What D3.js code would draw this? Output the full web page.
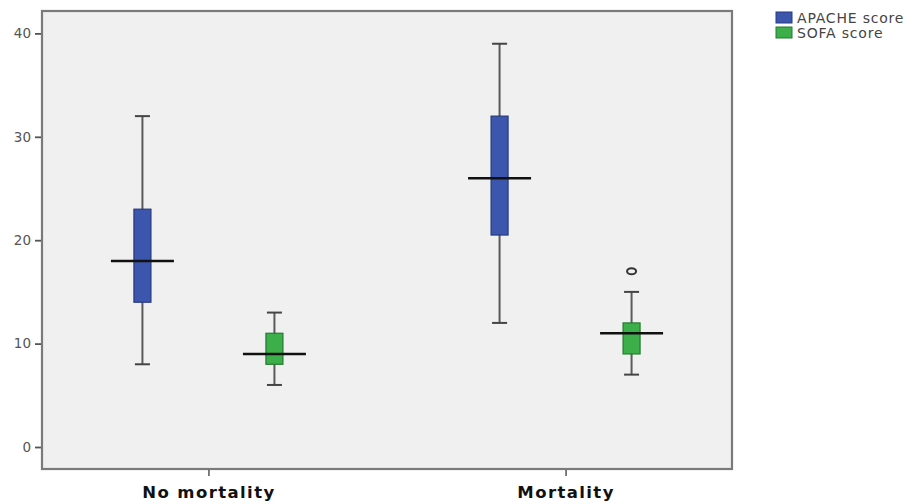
<!DOCTYPE html>
<html><head><meta charset="utf-8">
<script src="https://cdn.jsdelivr.net/npm/d3@7"></script>
<style>body{margin:0;background:#fff;} svg{display:block;}</style>
</head><body>
<svg id="chart" width="914" height="504"></svg>
<script>
const groups = ["No mortality", "Mortality"];
const series = ["APACHE score", "SOFA score"];
const colors = ["#3d56ad", "#3caf4b"];
const strokes = ["#263a80", "#237a30"];
// [min, q1, median, q3, max] per group, per series
const apache = [[8, 14, 18, 23, 32], [12, 20.5, 26, 32, 39]];
const sofa   = [[6, 8, 9, 11, 13], [7, 9, 11, 12, 15]];
const outliers = [{group: "Mortality", series: "SOFA score", value: 17}];
const yTicks = [0, 10, 20, 30, 40];

const svg = d3.select("#chart");
const L = 42, R = 732, T = 11, B = 469;
svg.append("rect").attr("x", L).attr("y", T).attr("width", R - L).attr("height", B - T)
  .attr("fill", "#f0f0f0").attr("stroke", "#7a7a7a").attr("stroke-width", 2.2);

const y = d3.scaleLinear().domain([0, 40]).range([447, 33.4]);
const x = d3.scalePoint().domain(groups).range([L, R]).padding(0.466);
const xs = d3.scalePoint().domain(series).range([-66, 66]);

const yAxis = svg.append("g").attr("transform", `translate(${L - 1},0)`)
  .call(d3.axisLeft(y).tickValues(yTicks).tickSize(6).tickPadding(4));
yAxis.select(".domain").remove();
yAxis.selectAll("line").attr("stroke", "#555").attr("stroke-width", 1.8);
yAxis.selectAll("text").attr("font-family", "DejaVu Sans").attr("font-size", 13.5).attr("fill", "#555");

const xAxis = svg.append("g").attr("transform", `translate(0,${B + 1})`)
  .call(d3.axisBottom(x).tickSize(6).tickPadding(10));
xAxis.select(".domain").remove();
xAxis.selectAll("line").attr("stroke", "#555").attr("stroke-width", 1.5);
xAxis.selectAll("text").attr("font-family", "DejaVu Sans").attr("font-weight", "bold")
  .attr("font-size", 16.5).attr("letter-spacing", 1.4).attr("fill", "#111");

const data = [];
groups.forEach((g, gi) => {
  data.push({g, s: series[0], si: 0, v: apache[gi]});
  data.push({g, s: series[1], si: 1, v: sofa[gi]});
});

const boxW = 17, capW = 15, medW = 63;
data.forEach(d => {
  const cx = x(d.g) + xs(d.s);
  const [mn, q1, md, q3, mx] = d.v;
  const gg = svg.append("g");
  gg.append("line").attr("x1", cx).attr("x2", cx).attr("y1", y(mx)).attr("y2", y(mn))
    .attr("stroke", "#5a5a5a").attr("stroke-width", 2);
  [mn, mx].forEach(v => gg.append("line").attr("x1", cx - capW / 2).attr("x2", cx + capW / 2)
    .attr("y1", y(v)).attr("y2", y(v)).attr("stroke", "#444").attr("stroke-width", 2));
  gg.append("rect").attr("x", cx - boxW / 2).attr("y", y(q3)).attr("width", boxW)
    .attr("height", y(q1) - y(q3)).attr("fill", colors[d.si]).attr("stroke", strokes[d.si]).attr("stroke-width", 1.2);
  gg.append("line").attr("x1", cx - medW / 2).attr("x2", cx + medW / 2).attr("y1", y(md)).attr("y2", y(md))
    .attr("stroke", "#111").attr("stroke-width", 2.5);
});

outliers.forEach(o => {
  svg.append("ellipse").attr("cx", x(o.group) + xs(o.series)).attr("cy", y(o.value))
    .attr("rx", 4.5).attr("ry", 3).attr("fill", "none").attr("stroke", "#333").attr("stroke-width", 2);
});

const leg = svg.append("g").attr("transform", "translate(776,12)");
series.forEach((s, i) => {
  const r = leg.append("g").attr("transform", `translate(0,${i * 15})`);
  r.append("rect").attr("width", 16).attr("height", 11).attr("fill", colors[i]).attr("stroke", strokes[i]).attr("stroke-width", 1);
  r.append("text").attr("x", 21).attr("y", 10.5).text(s).attr("font-family", "DejaVu Sans")
    .attr("font-size", 14).attr("letter-spacing", 0.8).attr("fill", "#444");
});
</script>
</body></html>
